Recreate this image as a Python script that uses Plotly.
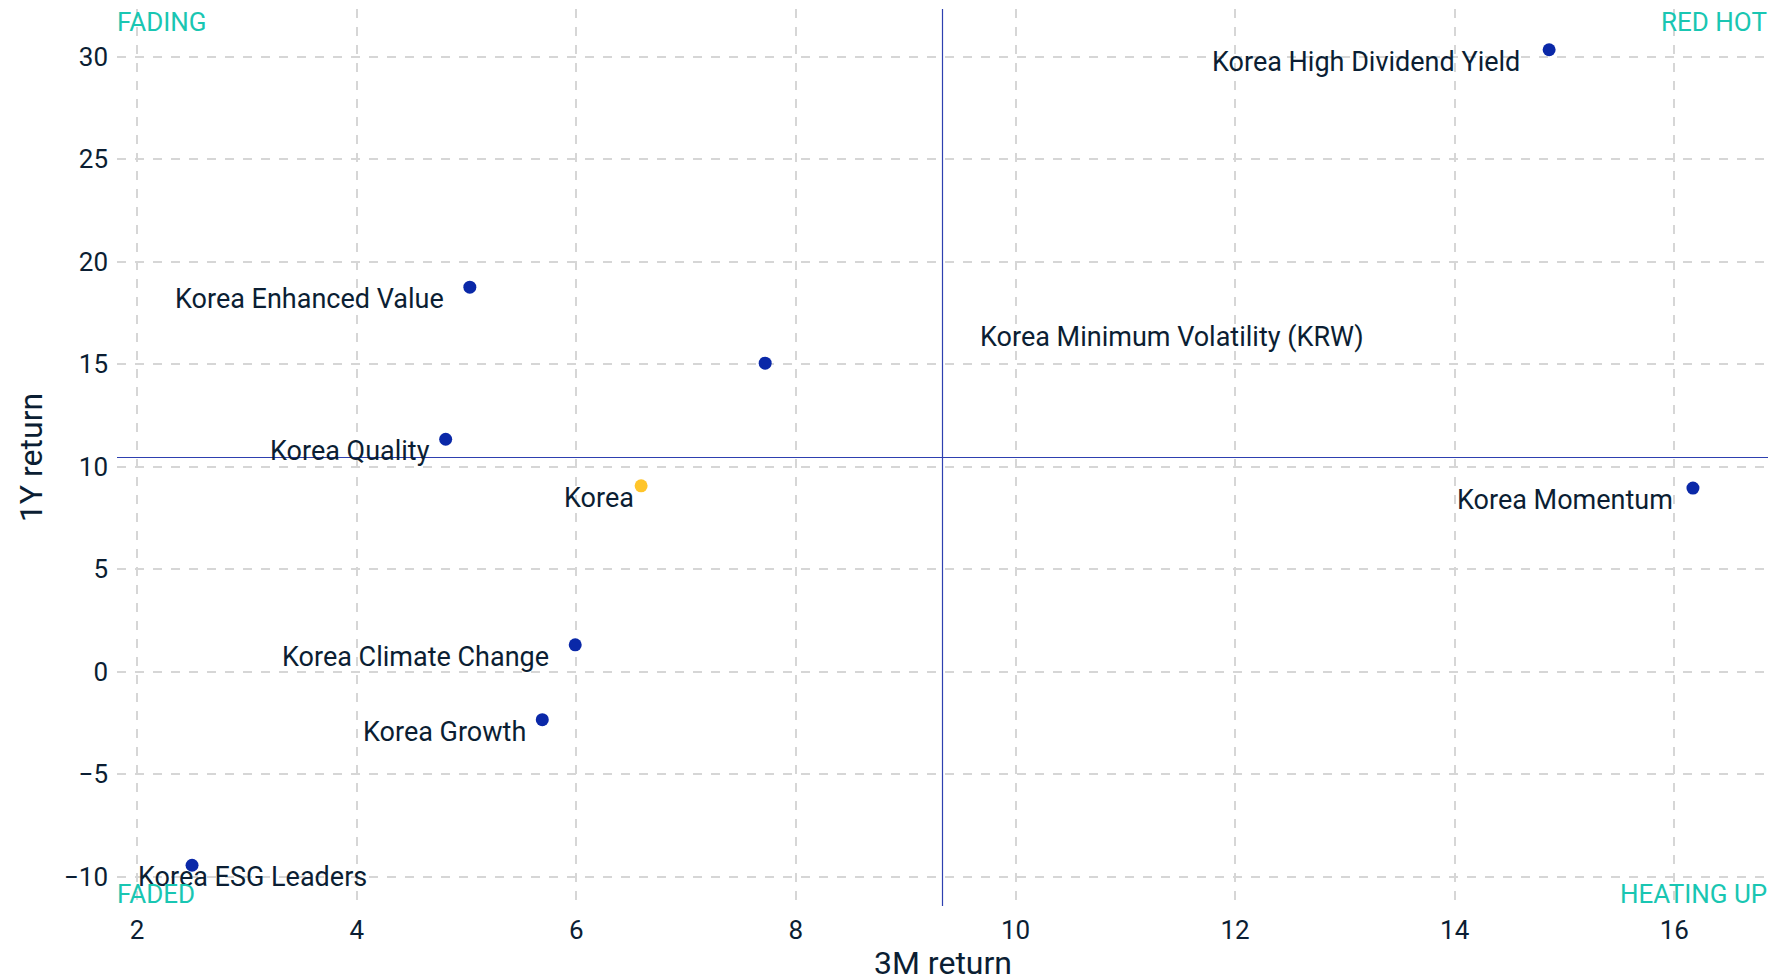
import plotly.graph_objects as go

names = ["Korea High Dividend Yield", "Korea Enhanced Value", "Korea Minimum Volatility (KRW)",
         "Korea Quality", "Korea", "Korea Momentum", "Korea Climate Change", "Korea Growth",
         "Korea ESG Leaders"]
ret_3m = [14.86, 5.03, 7.72, 4.81, 6.59, 16.17, 5.99, 5.69, 2.50]
ret_1y = [30.33, 18.75, 15.04, 11.33, 9.06, 8.95, 1.30, -2.35, -9.45]
is_benchmark = [False, False, False, False, True, False, False, False, False]

# label placement (pixel offsets from the point): (xanchor, xshift, yshift)
label_offsets = {
    "Korea High Dividend Yield": ("right", -27, -12),
    "Korea Enhanced Value": ("right", -24, -12),
    "Korea Minimum Volatility (KRW)": ("left", 213, 26),
    "Korea Quality": ("right", -14, -12),
    "Korea": ("right", -5, -12),
    "Korea Momentum": ("right", -18, -12),
    "Korea Climate Change": ("right", -24, -12),
    "Korea Growth": ("right", -14, -12),
    "Korea ESG Leaders": ("left", -56, -12),
}

BLUE = "#0A28A8"
YELLOW = "#FFC52A"
TEAL = "#19C6B2"
TEXT = "#0B1E33"
LINE = "#2E40B0"
GRID = "#D6D6D6"
FONT = "Roboto"

xmin, xmax = min(ret_3m), max(ret_3m)
ymin, ymax = min(ret_1y), max(ret_1y)
xpad = (xmax - xmin) * 0.05
ypad = (ymax - ymin) * 0.05
xr = [xmin - xpad, xmax + xpad]
yr = [ymin - ypad, ymax + ypad]
xmid = (xmin + xmax) / 2
ymid = (ymin + ymax) / 2

fig = go.Figure()
fig.add_trace(go.Scatter(
    x=ret_3m, y=ret_1y, mode="markers",
    marker=dict(size=13, color=[YELLOW if b else BLUE for b in is_benchmark]),
    text=names, hoverinfo="text", showlegend=False,
))

fig.add_shape(type="line", xref="x", yref="paper", x0=xmid, x1=xmid, y0=0, y1=1,
              line=dict(color=LINE, width=1.2), layer="above")
fig.add_shape(type="line", xref="paper", yref="y", x0=0, x1=1, y0=ymid, y1=ymid,
              line=dict(color=LINE, width=1.2), layer="above")

for n, x, y in zip(names, ret_3m, ret_1y):
    anc, xs, ys = label_offsets[n]
    fig.add_annotation(x=x, y=y, text=n, showarrow=False, xanchor=anc, yanchor="middle",
                       xshift=xs, yshift=ys, font=dict(family=FONT, size=27, color=TEXT))

quads = [("FADING", 0, 1, "left", "top", 3), ("RED HOT", 1, 1, "right", "top", 3),
         ("FADED", 0, 0, "left", "bottom", -4), ("HEATING UP", 1, 0, "right", "bottom", -4)]
for t, qx, qy, xa, ya, ys in quads:
    fig.add_annotation(x=qx, y=qy, xref="paper", yref="paper", text=t, showarrow=False,
                       xanchor=xa, yanchor=ya, yshift=ys, xshift=-1 if qx == 0 else 0,
                       font=dict(family=FONT, size=26, color=TEAL), borderpad=0)

# x-axis title
fig.add_annotation(x=0.5, y=0, xref="paper", yref="paper", text="3M return", showarrow=False,
                   xanchor="center", yanchor="middle", yshift=-57,
                   font=dict(family=FONT, size=32, color=TEXT))

fig.update_layout(
    width=1775, height=979,
    margin=dict(l=117, r=7, t=9, b=73),
    paper_bgcolor="white", plot_bgcolor="white",
    font=dict(family=FONT, size=26, color=TEXT),
    xaxis=dict(range=xr, tickvals=[2, 4, 6, 8, 10, 12, 14, 16], showgrid=True,
               gridcolor=GRID, griddash="dash", gridwidth=1.5, zeroline=False,
               showline=False, ticks="", automargin=False, ticklabelstandoff=6,
               tickfont=dict(size=26, color=TEXT)),
    yaxis=dict(range=yr, tickvals=[-10, -5, 0, 5, 10, 15, 20, 25, 30], showgrid=True,
               gridcolor=GRID, griddash="dash", gridwidth=1.5, zeroline=False,
               showline=False, ticks="", automargin=False, ticklabelstandoff=8,
               tickfont=dict(size=26, color=TEXT),
               title=dict(text="1Y return", font=dict(size=32, color=TEXT), standoff=11)),
)

fig.write_html("out.html", config={"displayModeBar": False},
               post_script="document.body.style.margin='0';document.body.style.overflow='hidden';")
